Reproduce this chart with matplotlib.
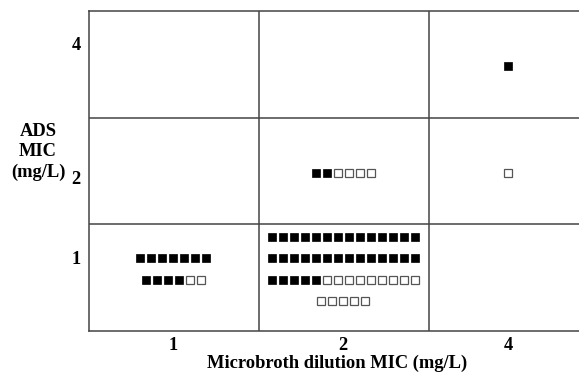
import matplotlib
matplotlib.use("Agg")
import matplotlib.pyplot as plt

# ---- data ----
x_labels = ["1", "2", "4"]          # Microbroth dilution MIC (mg/L)
y_labels = ["1", "2", "4"]          # ADS MIC (mg/L)
# isolates per cell: (x index, y index)
cell_x = [0, 1, 1, 2, 2]
cell_y = [0, 0, 1, 1, 2]
filled_counts = [11, 33, 2, 0, 1]
open_counts = [2, 14, 4, 1, 0]
per_row = [7, 14, 14, 14, 14]

# ---- layout ----
W, H, DPI = 579, 373, 100
fig = plt.figure(figsize=(W / DPI, H / DPI), dpi=DPI)
left, right, top, bottom = 89.0, 598.4, 11.0, 330.5
ax = fig.add_axes([left / W, (H - bottom) / H, (right - left) / W, (bottom - top) / H])
ax.set_xlim(0, 3)
ax.set_ylim(0, 3)

line_col = "#444444"
for s in ax.spines.values():
    s.set_color(line_col)
    s.set_linewidth(1.1)
for v in (1, 2):
    ax.axvline(v, color=line_col, lw=1.1)
    ax.axhline(v, color=line_col, lw=1.1)

px_x = 3 / (right - left)
px_y = 3 / (bottom - top)
col_centers = [(173.4 - left) * px_x, (343.3 - left) * px_x, (508.0 - left) * px_x]
row_centers = [(bottom - 269.0) * px_y, (bottom - 173.0) * px_y, (bottom - 66.0) * px_y]
pitch_x = 11.0 * px_x
pitch_y = 21.5 * px_y

for cx, cy, nf, no, pr in zip(cell_x, cell_y, filled_counts, open_counts, per_row):
    kinds = [True] * nf + [False] * no
    rows = [kinds[i:i + pr] for i in range(0, len(kinds), pr)]
    nrows = len(rows)
    for r, row in enumerate(rows):
        yc = row_centers[cy] + ((nrows - 1) / 2 - r) * pitch_y
        n = len(row)
        for k, filled in enumerate(row):
            xc = col_centers[cx] + (k - (n - 1) / 2) * pitch_x
            if filled:
                ax.plot(xc, yc, marker="s", ms=6.4, mfc="black", mec="black", mew=0.5,
                        ls="none", clip_on=False)
            else:
                ax.plot(xc, yc, marker="s", ms=5.8, mfc="white", mec="#555555", mew=0.9,
                        ls="none", clip_on=False)

font = dict(family="Liberation Serif", weight="bold", size=13.3)
ax.set_xticks(col_centers)
ax.set_xticklabels(x_labels, fontdict=font)
ax.set_yticks([(bottom - 257) * px_y, (bottom - 177) * px_y, (bottom - 44) * px_y])
ax.set_yticklabels(y_labels, fontdict=font)
ax.tick_params(length=0)
ax.tick_params(axis="x", pad=4.5)
ax.tick_params(axis="y", pad=6)

fig.text(337 / W, 1 - 363 / H, "Microbroth dilution MIC (mg/L)", ha="center", va="center", **font)
fig.text(38 / W, 1 - 152 / H, "ADS\nMIC\n(mg/L)", ha="center", va="center",
         multialignment="center", linespacing=1.25, **font)

fig.savefig("out.png", dpi=DPI)
